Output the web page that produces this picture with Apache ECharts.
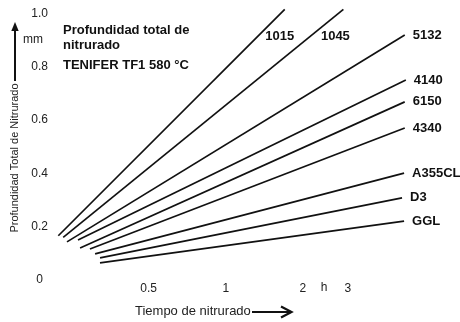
<!DOCTYPE html>
<html>
<head>
<meta charset="utf-8">
<script src="https://cdn.jsdelivr.net/npm/echarts@6/dist/echarts.min.js"></script>
<style>html,body{margin:0;padding:0;background:#fff;}#c{width:460px;height:322px;}</style>
</head>
<body>
<div id="c"></div>
<script>
const steels = ['1015', '1045', '5132', '4140', '6150', '4340', 'A355CL', 'D3', 'GGL'];
const startHours = [0.222, 0.232, 0.240, 0.265, 0.270, 0.295, 0.309, 0.323, 0.323];
const startDepth = [0.166, 0.160, 0.143, 0.150, 0.120, 0.116, 0.098, 0.083, 0.064];
const endHours = [1.70, 2.88, 5.0, 5.05, 5.0, 5.0, 4.97, 4.88, 4.97];
const endDepth = [1.015, 1.015, 0.919, 0.750, 0.668, 0.570, 0.401, 0.308, 0.221];
const xTickValues = [0.5, 1, 2, 3];
const xUnit = 'h';
const yUnit = 'mm';
const titleLines = ['Profundidad total de\nnitrurado', 'TENIFER TF1 580 °C'];
const xName = 'Tiempo de nitrurado';
const yName = 'Profundidad Total de Nitrurado';
const topLabelled = ['1015', '1045'];

const chart = echarts.init(document.getElementById('c'), null, {renderer: 'canvas'});
const ink = '#111';
const font = 'Liberation Sans, Arial, sans-serif';
const series = steels.map((name, i) => {
  const s = {
    type: 'line',
    name: name,
    data: [[startHours[i], startDepth[i]], [endHours[i], endDepth[i]]],
    showSymbol: false,
    clip: false,
    silent: true,
    lineStyle: {color: ink, width: 1.7},
    animation: false
  };
  if (topLabelled.indexOf(name) >= 0) {
    s.markPoint = {
      symbol: 'circle', symbolSize: 0, silent: true, animation: false,
      data: [{coord: [endHours[i], endDepth[i]], value: name}],
      label: {show: true, position: 'inside', offset: [name === '1015' ? -5 : -8, 27],
        formatter: name, fontFamily: font, fontWeight: 'bold', fontSize: 13, color: ink}
    };
  } else {
    s.endLabel = {show: true, formatter: name, distance: 8,
      fontFamily: font, fontWeight: 'bold', fontSize: 13, color: ink};
  }
  return s;
});

chart.setOption({
  backgroundColor: '#fff',
  animation: false,
  textStyle: {fontFamily: font},
  title: [
    {text: titleLines[0], left: 63, top: 22.5, padding: 0,
     textStyle: {fontSize: 13, fontWeight: 'bold', color: ink, lineHeight: 15, fontFamily: font}},
    {text: titleLines[1], left: 63, top: 57.5, padding: 0,
     textStyle: {fontSize: 13, fontWeight: 'bold', color: ink, lineHeight: 15, fontFamily: font}}
  ],
  grid: {left: 46.7, right: 50.9, top: 0, bottom: 42, containLabel: false, outerBoundsMode: 'none'},
  xAxis: {
    type: 'log', logBase: 10, min: 0.2, max: 5.2,
    axisLine: {show: false}, axisTick: {show: false}, splitLine: {show: false},
    axisLabel: {customValues: xTickValues, margin: 3, fontSize: 12, color: '#222',
      formatter: v => String(v)},
    name: xName, nameLocation: 'middle', nameGap: 25,
    nameTextStyle: {fontSize: 13, color: '#222', padding: [0, 70, 0, 0]}
  },
  yAxis: {
    type: 'value', min: 0, max: 1.05, interval: 0.2,
    axisLine: {show: false}, axisTick: {show: false}, splitLine: {show: false},
    axisLabel: {showMaxLabel: false, align: 'center', margin: 7, fontSize: 12, color: '#222',
      formatter: v => (v === 0 ? '0' : v.toFixed(1))},
    name: yName, nameLocation: 'middle', nameGap: 26,
    nameTextStyle: {fontSize: 11, color: '#222', padding: [0, 36, 0, 0]}
  },
  graphic: [
    {type: 'line', shape: {x1: 15, y1: 81, x2: 15, y2: 30}, style: {stroke: ink, lineWidth: 2}},
    {type: 'polygon', shape: {points: [[15, 22], [11.3, 31], [18.7, 31]]}, style: {fill: ink}},
    {type: 'text', x: 23, y: 40, style: {text: yUnit, fontSize: 12, fill: '#222', verticalAlign: 'middle', fontFamily: font}},
    {type: 'text', x: 324, y: 288, style: {text: xUnit, fontSize: 12, fill: '#222', align: 'center', verticalAlign: 'middle', fontFamily: font}},
    {type: 'line', shape: {x1: 252, y1: 312, x2: 290, y2: 312}, style: {stroke: ink, lineWidth: 1.8}},
    {type: 'polyline', shape: {points: [[281, 306.5], [291.5, 312], [281, 317.5]]}, style: {stroke: ink, lineWidth: 2.2, fill: null}}
  ],
  series: series
});
</script>
</body>
</html>
